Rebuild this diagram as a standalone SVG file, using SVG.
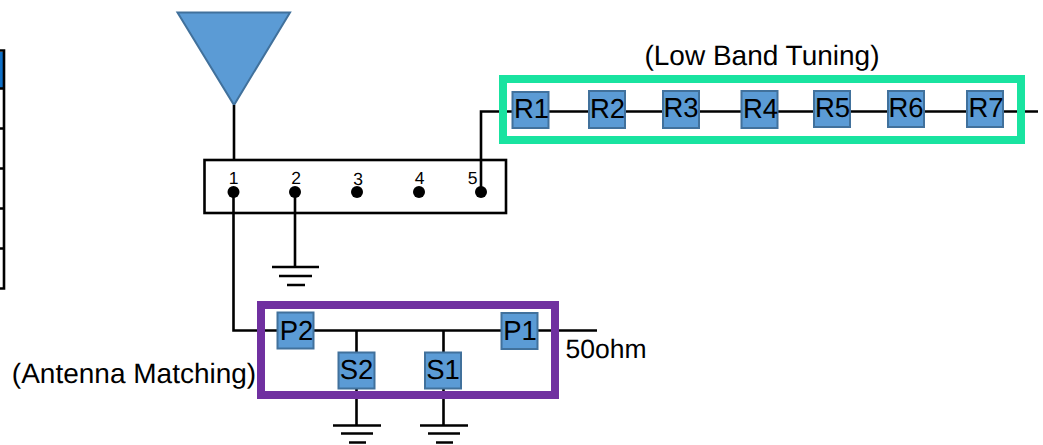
<svg xmlns="http://www.w3.org/2000/svg" width="1043" height="445" viewBox="0 0 1043 445">
<style>
text{font-family:"Liberation Sans",Arial,sans-serif;fill:#000;text-rendering:geometricPrecision}
.w{fill:none;stroke:#000;stroke-width:2.600}
.c{fill:#5b9bd5;stroke:#41719c;stroke-width:2}
.l{font-size:28px;text-anchor:middle}
.n{font-size:27.500px;text-anchor:middle}
.d{font-size:17.500px;text-anchor:middle}
</style>
<rect width="1043" height="445" fill="#fff"/>
<g id="table-fragment">
<rect x="0" y="52" width="3" height="36" fill="#0f6fc6"/>
<path class="w" d="M0 50.500H4V288.500H0M0 88.500H4M0 128.500H4M0 168.500H4M0 208.500H4M0 248.500H4"/>
</g>
<g id="antenna"><path class="c" d="M177.500 12.500H290L234 105Z"/></g>
<g id="switch">
<rect x="204.500" y="160" width="301.500" height="53" fill="#fff" stroke="#000" stroke-width="2.600"/>
<circle cx="233.500" cy="192" r="6"/><circle cx="295" cy="192" r="6"/><circle cx="357" cy="192" r="6"/><circle cx="419" cy="192" r="6"/><circle cx="481" cy="192" r="6"/>
<text class="d" x="233.500" y="183.500">1</text><text class="d" x="296" y="184">2</text><text class="d" x="358" y="185">3</text><text class="d" x="419.500" y="183.500">4</text><text class="d" x="472.500" y="183.500">5</text>
</g>
<g id="connectors">
<path class="w" d="M234 105V160M233.500 192V330.500H597M295 192V267M481 192V111.500H1038M356.500 330.500V425M443.500 330.500V425"/>
</g>
<g id="ground-1"><path class="w" d="M272 267H319M279 276H312M287 285H305"/></g>
<g id="ground-2"><path class="w" d="M333 425.500H381M341 433.500H373M349 442.500H366"/></g>
<g id="ground-3"><path class="w" d="M420 425.500H468M428 433.500H460M436 442.500H453"/></g>
<g id="matching-frame"><rect x="261" y="305" width="294" height="90" fill="none" stroke="#7030a0" stroke-width="8"/></g>
<g id="tuning-frame"><rect x="503" y="79" width="518" height="61" fill="none" stroke="#19e3a0" stroke-width="8"/></g>
<g id="P2"><rect class="c" x="277.500" y="312.500" width="36" height="36"/><text class="n" x="296.500" y="339.500">P2</text></g>
<g id="P1"><rect class="c" x="501.500" y="313" width="36" height="36"/><text class="n" x="520" y="340">P1</text></g>
<g id="S2"><rect class="c" x="338.500" y="352.500" width="36" height="36"/><text class="n" x="356.500" y="379">S2</text></g>
<g id="S1"><rect class="c" x="425" y="352.500" width="36" height="36"/><text class="n" x="443" y="379">S1</text></g>
<g id="R1"><rect class="c" x="512.500" y="92" width="36" height="36"/><text class="n" x="531.500" y="118">R1</text></g>
<g id="R2"><rect class="c" x="589" y="91" width="36" height="37"/><text class="n" x="607.500" y="118">R2</text></g>
<g id="R3"><rect class="c" x="663" y="91" width="36" height="37"/><text class="n" x="681" y="117">R3</text></g>
<g id="R4"><rect class="c" x="741.500" y="91" width="36" height="37"/><text class="n" x="760.500" y="118">R4</text></g>
<g id="R5"><rect class="c" x="814" y="91" width="36" height="36"/><text class="n" x="832.500" y="117">R5</text></g>
<g id="R6"><rect class="c" x="888" y="91" width="36" height="36"/><text class="n" x="906" y="116.500">R6</text></g>
<g id="R7"><rect class="c" x="967" y="91" width="36" height="36"/><text class="n" x="986" y="117">R7</text></g>
<g id="labels">
<text class="l" x="762" y="65">(Low Band Tuning)</text>
<text class="l" x="134" y="383">(Antenna Matching)</text>
<text class="l" x="606" y="358" style="font-size:26.500px">50ohm</text>
</g>
</svg>
